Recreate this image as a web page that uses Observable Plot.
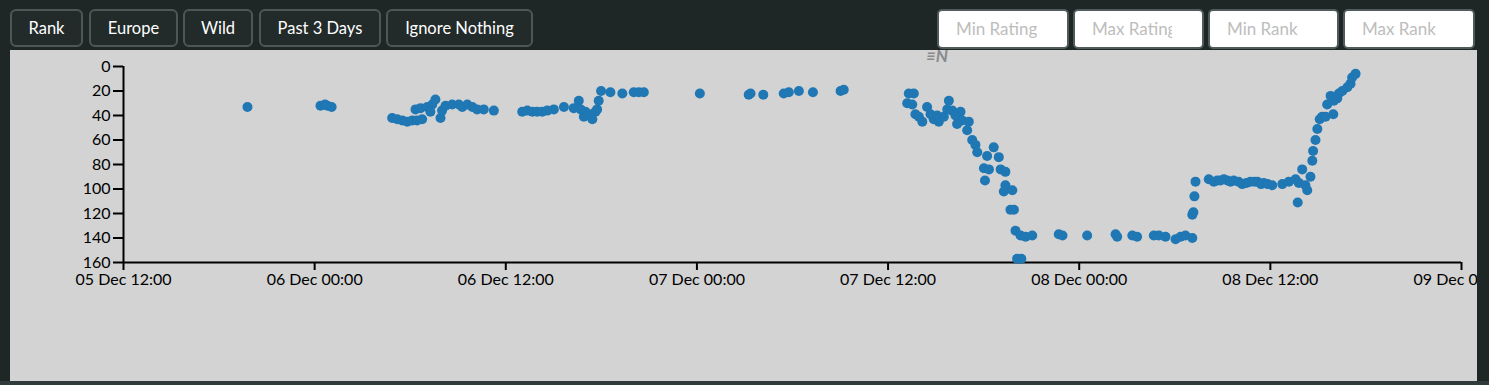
<!DOCTYPE html>
<html>
<head>
<meta charset="utf-8">
<script src="https://cdn.jsdelivr.net/npm/d3@7"></script>
<script src="https://cdn.jsdelivr.net/npm/@observablehq/plot@0.6"></script>
<style>
  html, body { margin: 0; padding: 0; }
  body { width: 1489px; height: 385px; background: #1f2626; position: relative; overflow: hidden; font-family: Lato, sans-serif; }
  .btn { position: absolute; top: 9px; height: 38px; box-sizing: border-box; border: 2px solid #4d5757; border-radius: 6px; background: #222a2a; color: #fff; font-size: 16.5px; line-height: 34px; text-align: center; }
  .inp { position: absolute; top: 9px; height: 40px; box-sizing: border-box; border: 2px solid #505b5b; border-radius: 5px; background: #fff; font-family: Lato, sans-serif; font-size: 17px; padding: 0 30px 1px 17px; outline: none; }
  .inp::placeholder { color: #bdbdbd; }
  #panel { position: absolute; left: 10px; top: 50px; width: 1467px; height: 331px; background: #d3d3d3; overflow: hidden; }
  #bottom { position: absolute; left: 0; top: 381px; width: 1489px; height: 4px; background: #313b3b; }
  #mark { position: absolute; left: 926px; top: 45px; color: #8a8a8a; font: italic bold 17px Lato, sans-serif; }
</style>
</head>
<body>
<div class="btn" style="left:10px;width:73px">Rank</div>
<div class="btn" style="left:89px;width:89px">Europe</div>
<div class="btn" style="left:183px;width:70px">Wild</div>
<div class="btn" style="left:259px;width:122px">Past 3 Days</div>
<div class="btn" style="left:386px;width:147px">Ignore Nothing</div>
<input class="inp" style="left:937px;width:132px" placeholder="Min Rating">
<input class="inp" style="left:1073px;width:131px" placeholder="Max Rating">
<input class="inp" style="left:1208px;width:131px" placeholder="Min Rank">
<input class="inp" style="left:1343px;width:132px" placeholder="Max Rank">
<div id="panel"></div>
<div id="mark">≡N</div>
<div id="bottom"></div>
<script>
// Observation times (UTC) and ranks
const times = [
  "2023-12-05T19:47",
  "2023-12-06T00:22","2023-12-06T00:39","2023-12-06T00:48","2023-12-06T01:04",
  "2023-12-06T04:52","2023-12-06T05:11","2023-12-06T05:30","2023-12-06T05:49","2023-12-06T06:08","2023-12-06T06:26","2023-12-06T06:45",
  "2023-12-06T06:20","2023-12-06T06:39","2023-12-06T07:04","2023-12-06T07:23","2023-12-06T07:35","2023-12-06T07:16","2023-12-06T07:54",
  "2023-12-06T08:00","2023-12-06T08:13","2023-12-06T08:38","2023-12-06T09:03","2023-12-06T09:16","2023-12-06T09:35","2023-12-06T09:54",
  "2023-12-06T10:12","2023-12-06T10:37","2023-12-06T11:15",
  "2023-12-06T13:02","2023-12-06T13:21","2023-12-06T13:40","2023-12-06T13:58","2023-12-06T14:17","2023-12-06T14:36","2023-12-06T15:01",
  "2023-12-06T15:39","2023-12-06T16:16","2023-12-06T16:35","2023-12-06T16:42","2023-12-06T17:00","2023-12-06T16:54","2023-12-06T17:13",
  "2023-12-06T17:26","2023-12-06T17:38","2023-12-06T17:44","2023-12-06T17:50","2023-12-06T17:59","2023-12-06T18:34","2023-12-06T19:19",
  "2023-12-06T20:02","2023-12-06T20:21","2023-12-06T20:40",
  "2023-12-07T00:11","2023-12-07T03:15","2023-12-07T03:22","2023-12-07T04:10","2023-12-07T05:27","2023-12-07T05:46","2023-12-07T06:24",
  "2023-12-07T07:17","2023-12-07T09:01","2023-12-07T09:13",
  "2023-12-07T13:18","2023-12-07T13:37","2023-12-07T13:12","2023-12-07T13:31","2023-12-07T13:43","2023-12-07T13:56","2023-12-07T14:09",
  "2023-12-07T14:27","2023-12-07T14:40","2023-12-07T14:52","2023-12-07T15:11","2023-12-07T15:05","2023-12-07T15:30","2023-12-07T15:49",
  "2023-12-07T15:43","2023-12-07T16:02","2023-12-07T16:14","2023-12-07T16:33","2023-12-07T16:39","2023-12-07T16:20","2023-12-07T17:04",
  "2023-12-07T16:58","2023-12-07T17:17","2023-12-07T17:29","2023-12-07T17:36","2023-12-07T18:13","2023-12-07T18:38","2023-12-07T18:57",
  "2023-12-07T18:01","2023-12-07T18:20","2023-12-07T18:05","2023-12-07T19:04","2023-12-07T19:22","2023-12-07T19:22","2023-12-07T19:16",
  "2023-12-07T19:48","2023-12-07T19:41","2023-12-07T19:54","2023-12-07T20:00","2023-12-07T20:19","2023-12-07T20:38","2023-12-07T21:03",
  "2023-12-07T22:43","2023-12-07T22:57","2023-12-08T00:30","2023-12-07T20:06","2023-12-07T20:22",
  "2023-12-08T02:17","2023-12-08T02:23","2023-12-08T03:20","2023-12-08T03:38","2023-12-08T04:41","2023-12-08T05:00","2023-12-08T05:25",
  "2023-12-08T06:03","2023-12-08T06:22","2023-12-08T06:40","2023-12-08T07:06","2023-12-08T07:06","2023-12-08T07:10","2023-12-08T07:14",
  "2023-12-08T07:18",
  "2023-12-08T08:08","2023-12-08T08:27","2023-12-08T08:40","2023-12-08T08:52","2023-12-08T09:05","2023-12-08T09:18","2023-12-08T09:30",
  "2023-12-08T09:42","2023-12-08T10:00","2023-12-08T10:14","2023-12-08T10:30","2023-12-08T10:45","2023-12-08T11:00","2023-12-08T11:11",
  "2023-12-08T11:25","2023-12-08T11:35","2023-12-08T11:50","2023-12-08T12:07","2023-12-08T12:45","2023-12-08T13:10","2023-12-08T13:35",
  "2023-12-08T13:47","2023-12-08T14:00","2023-12-08T14:12","2023-12-08T14:19","2023-12-08T14:31","2023-12-08T13:43",
  "2023-12-08T14:38","2023-12-08T14:41","2023-12-08T14:50","2023-12-08T14:57","2023-12-08T15:06","2023-12-08T15:15","2023-12-08T15:28",
  "2023-12-08T15:57","2023-12-08T15:34","2023-12-08T15:47","2023-12-08T15:59","2023-12-08T16:12","2023-12-08T16:18","2023-12-08T16:31",
  "2023-12-08T16:50","2023-12-08T17:02","2023-12-08T17:08","2023-12-08T17:21"
];
const ranks = [
  33,
  32,31,32,33,
  42,43,44,45,44,44,43,
  35,34,33,31,27,37,42,
  36,32,31,31,33,31,33,
  35,35,36,
  37,36,37,37,37,36,35,
  33,34,28,35,37,41,39,
  43,37,35,28,20,21,22,
  21,21,21,
  22,23,22,23,22,21,20,
  21,20,19,
  22,22,30,31,39,41,45,
  33,39,43,45,40,41,28,
  35,36,40,37,44,47,45,
  52,60,64,70,73,66,74,
  83,84,93,84,86,97,102,
  101,117,117,134,138,139,138,
  137,138,138,157,157,
  137,139,138,139,138,138,139,
  141,139,138,140,121,119,106,
  94,
  92,94,93,93,92,93,94,
  93,94,96,95,94,94,94,
  96,95,96,97,96,94,92,
  95,84,97,101,90,111,
  77,69,60,51,43,41,41,
  39,31,24,28,26,22,20,
  17,14,9,6
];
const xDomain = ["2023-12-05T12:00", "2023-12-09T00:00"];
const yDomain = [0, 160];
const yTicks = [0, 20, 40, 60, 80, 100, 120, 140, 160];

const data = times.map((t, i) => ({ t: new Date(t + "Z"), rank: ranks[i] }));
const xd = xDomain.map(s => new Date(s + "Z"));
const fmt = d3.utcFormat("%d %b %H:%M");

const chart = Plot.plot({
  width: 1467,
  height: 331,
  marginLeft: 113,
  marginRight: 16,
  marginTop: 16,
  marginBottom: 119,
  style: { background: "transparent", fontFamily: "Lato, sans-serif", fontSize: "16px", color: "#000", overflow: "visible" },
  x: { type: "utc", domain: xd },
  y: { domain: yDomain, reverse: true },
  marks: [
    Plot.axisX({ ticks: d3.utcHour.every(12), tickFormat: fmt, tickSize: 8, tickPadding: 3, strokeWidth: 2, fontSize: 16, label: null, textOverflow: null }),
    Plot.axisY({ ticks: yTicks, tickSize: 10, tickPadding: 3, strokeWidth: 2, fontSize: 16, label: null }),
    Plot.ruleX([xd[0]], { stroke: "#000", strokeWidth: 2 }),
    Plot.ruleY([160], { stroke: "#000", strokeWidth: 2 }),
    Plot.dot(data, { x: "t", y: "rank", r: 5, fill: "#1f77b4", stroke: null })
  ]
});
document.getElementById("panel").appendChild(chart);
</script>
</body>
</html>
